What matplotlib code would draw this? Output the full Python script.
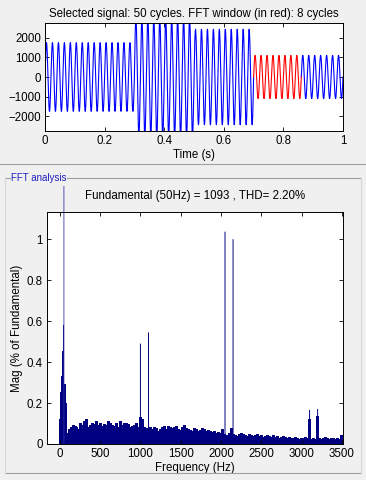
import numpy as np
import matplotlib
matplotlib.use("Agg")
import matplotlib.pyplot as plt
from matplotlib.transforms import Bbox, TransformedBbox
from matplotlib.lines import Line2D

plt.rcParams['font.family'] = ['Liberation Sans', 'DejaVu Sans']

# ---------------- data ----------------
# time signal: 50 Hz sine, amplitude per segment
seg_edges = [0.0, 0.3, 0.5, 0.7, 1.0]
seg_amps = [1750, 3000, 2430, 1100]
f0 = 50
fft_window = [0.7, 0.86]

# FFT spectrum (% of fundamental)
fund_freq = 50
fund_mag = 100.0
low_freqs = [0, 6.25, 12.5, 18.75, 25, 31.25, 37.5, 43.75, 56.25, 62.5, 68.75, 75, 81.25, 87.5, 93.75]
low_mags = [0.12, 0.25, 0.25, 0.26, 0.33, 0.33, 0.45, 0.58, 0.29, 0.29, 0.28, 0.20, 0.10, 0.05, 0.03]

noise_start, noise_step = 100, 25
noise_mags = [
    0.04, 0.07, 0.08, 0.09, 0.085, 0.07, 0.10, 0.09,
    0.11, 0.12, 0.08, 0.09, 0.10, 0.095, 0.11, 0.09,
    0.10, 0.085, 0.095, 0.09, 0.11, 0.10, 0.09, 0.085,
    0.10, 0.08, 0.11, 0.09, 0.10, 0.10, 0.095, 0.08,
    0.085, 0.09, 0.10, 0.08,
    0.13, 0.12, 0.08, 0.075, 0.07, 0.08, 0.07, 0.08,
    0.075, 0.06, 0.07, 0.08, 0.085, 0.07, 0.085, 0.08,
    0.075, 0.08, 0.085, 0.07, 0.065, 0.08, 0.09, 0.075,
    0.07, 0.065, 0.06, 0.075, 0.07, 0.06, 0.065, 0.075,
    0.07, 0.06, 0.065, 0.06, 0.055, 0.06, 0.05, 0.055,
    0.05, 0.07, 0.045, 0.04, 0.05, 0.075, 0.045, 0.04,
    0.035, 0.045, 0.05, 0.045, 0.04, 0.035, 0.045, 0.04,
    0.035, 0.04, 0.045, 0.035, 0.04, 0.03, 0.035, 0.04,
    0.035, 0.03, 0.04, 0.03, 0.035, 0.025, 0.03, 0.035,
    0.03, 0.025, 0.03, 0.028, 0.025, 0.03, 0.025, 0.022,
    0.028, 0.025, 0.03, 0.025, 0.12, 0.02, 0.025, 0.02,
    0.135, 0.025, 0.02, 0.028, 0.03, 0.025, 0.02, 0.025,
    0.025, 0.02, 0.025, 0.02, 0.04,
]
spike_freqs = [1000, 1100, 2050, 2150, 3100, 3200]
spike_mags = [0.49, 0.545, 1.037, 1.0, 0.166, 0.171]

top_title = "Selected signal: 50 cycles. FFT window (in red): 8 cycles"
bot_title = "Fundamental (50Hz) = 1093 , THD= 2.20%"

# ---------------- figure ----------------
W, H = 366, 480
fig = plt.figure(figsize=(W / 100, H / 100), dpi=100, facecolor='#f0f0f0')

def fx(px):
    return px / W

def fy(py):
    return 1 - py / H

ax1 = fig.add_axes([fx(45), fy(131), fx(343 - 45), (131 - 23) / H])
ax2 = fig.add_axes([fx(47), fy(444), fx(343 - 47), (444 - 212) / H])

fs = 8.3
navy = '#000080'

# --- top: time signal ---
t = np.linspace(0, 1, 30001)
amp = np.zeros_like(t)
for a, b, A in zip(seg_edges[:-1], seg_edges[1:], seg_amps):
    amp[(t >= a) & (t <= b)] = A
sig = amp * np.sin(2 * np.pi * f0 * t)
m = (t >= fft_window[0]) & (t <= fft_window[1])
blue = np.where((t <= fft_window[0]) | (t >= fft_window[1]), sig, np.nan)
ax1.plot(t, blue, color='#0000ff', lw=0.8)
ax1.plot(t[m], sig[m], color='#ff0000', lw=0.8)
ax1.set_xlim(0, 1)
ax1.set_ylim(-2750, 2750)
ax1.set_xticks([0, 0.2, 0.4, 0.6, 0.8, 1])
ax1.set_xticklabels(['0', '0.2', '0.4', '0.6', '0.8', '1'])
ax1.set_yticks([-2000, -1000, 0, 1000, 2000])
ax1.set_title(top_title, fontsize=fs, pad=4)
ax1.set_xlabel('Time (s)', fontsize=fs, labelpad=1)

# --- bottom: FFT ---
nf = noise_start + noise_step * np.arange(len(noise_mags))
ax2.bar(nf, noise_mags, width=noise_step, color=navy, edgecolor='none', linewidth=0,
        snap=False, antialiased=False)
ax2.bar(low_freqs, low_mags, width=9, color=navy, edgecolor='none', linewidth=0,
        snap=False, antialiased=False)
ax2.bar(spike_freqs, spike_mags, width=12, color=navy, edgecolor='none', linewidth=0, snap=False)
fb = ax2.bar([fund_freq], [fund_mag], width=10, color='#3030a8', edgecolor='none', linewidth=0, snap=False)
clipbox = TransformedBbox(Bbox([[0, 0], [1, fy(186)]]), fig.transFigure)
for p in fb:
    p.set_clip_path(None)
    p.set_clip_box(clipbox)
    p.set_clip_on(True)

ax2.set_xlim(-160, 3515)
ax2.set_ylim(0, 1.133)
ax2.set_xticks([0, 500, 1000, 1500, 2000, 2500, 3000, 3500])
ax2.set_yticks([0, 0.2, 0.4, 0.6, 0.8, 1])
ax2.set_yticklabels(['0', '0.2', '0.4', '0.6', '0.8', '1'])
ax2.set_title(bot_title, fontsize=fs, pad=9)
ax2.set_xlabel('Frequency (Hz)', fontsize=fs, labelpad=1)
ax2.set_ylabel('Mag (% of Fundamental)', fontsize=fs, labelpad=3)

for ax in (ax1, ax2):
    ax.tick_params(direction='in', length=3, width=0.6, labelsize=fs,
                   top=True, right=True, pad=3)
    for s in ax.spines.values():
        s.set_linewidth(0.7)
    ax.set_facecolor('white')

# panel decorations
lc = '#a0a0a0'
fig.add_artist(Line2D([0, 1], [fy(164), fy(164)], color=lc, lw=0.8, transform=fig.transFigure))
fig.add_artist(Line2D([fx(5), fx(10)], [fy(178), fy(178)], color=lc, lw=0.8, transform=fig.transFigure))
fig.add_artist(Line2D([fx(67), fx(361)], [fy(178), fy(178)], color=lc, lw=0.8, transform=fig.transFigure))
fig.add_artist(Line2D([fx(5), fx(361)], [fy(473), fy(473)], color=lc, lw=0.8, transform=fig.transFigure))
fig.add_artist(Line2D([fx(5), fx(5)], [fy(178), fy(473)], color='#d8d8d8', lw=0.8, transform=fig.transFigure))
fig.add_artist(Line2D([fx(361), fx(361)], [fy(178), fy(473)], color='#d8d8d8', lw=0.8, transform=fig.transFigure))
fig.text(fx(11), fy(178), 'FFT analysis', fontsize=7, color='#2020c0', va='center', ha='left')

fig.savefig('out.png', dpi=100, facecolor=fig.get_facecolor())
